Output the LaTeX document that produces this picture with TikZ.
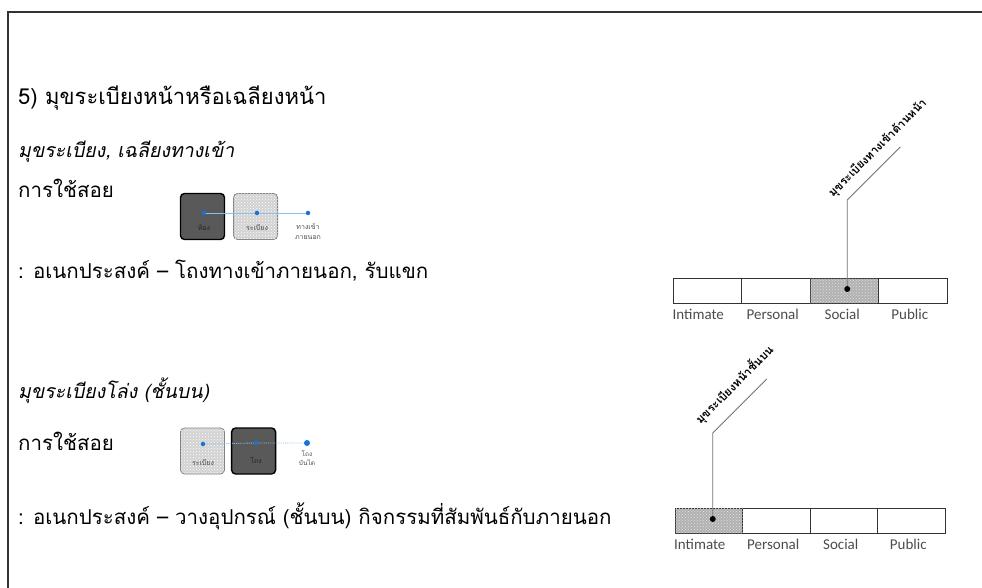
\documentclass[tikz,border=0pt]{standalone}
\usepackage{fontspec}
\setmainfont[Script=Thai]{Loma}
\newfontfamily\thaislant[Script=Thai,FakeSlant=0.2]{Loma}
\newfontfamily\latinfont{Carlito}
\usetikzlibrary{positioning,patterns}
\definecolor{dotblue}{RGB}{25,115,210}
\definecolor{linkblue}{RGB}{140,190,235}

\begin{document}
\begin{tikzpicture}[x=1pt,y=-1pt,node distance=0pt]
  \tikzstyle{heading}=[anchor=base west,inner sep=0pt,font=\fontsize{22}{25}\selectfont]
  \tikzstyle{bodytext}=[anchor=base west,inner sep=0pt,font=\fontsize{20.5}{23}\selectfont]
  \tikzstyle{subhead}=[anchor=base west,inner sep=0pt,font=\fontsize{19.5}{23}\thaislant]
  \tikzstyle{roomdark}=[draw=black,line width=1.4pt,rounded corners=4pt,fill=black!65,minimum width=44pt,minimum height=46pt]
  \tikzstyle{roomlight}=[draw=gray,line width=0.8pt,rounded corners=4pt,fill=gray!35,postaction={pattern=crosshatch dots,pattern color=white},minimum width=44pt,minimum height=46pt]
  \tikzstyle{bluedot}=[circle,fill=dotblue,inner sep=0pt,minimum size=4.5pt]
  \tikzstyle{tinytext}=[inner sep=0pt,align=center,text=black!70,font=\fontsize{7}{10}\selectfont]
  \tikzstyle{zone}=[draw=black!80,line width=1pt,inner sep=0pt,outer sep=0pt,minimum width=68.5pt,minimum height=24.5pt]
  \tikzstyle{zoneshade}=[zone,fill=gray!60,postaction={pattern=crosshatch dots,pattern color=gray!25}]
  \tikzstyle{zonelabel}=[inner sep=0pt,text=black!70,font=\latinfont\fontsize{15}{17}\selectfont]
  \tikzstyle{leader}=[draw=black!55,line width=0.8pt]
  \tikzstyle{tag}=[rotate=45,anchor=south west,inner sep=0pt,font=\fontsize{11.5}{13}\selectfont\bfseries]

  \useasboundingbox (0,0) rectangle (982,588);
  \draw[line width=1.5pt,black!80] (8,588) -- (8,12) -- (982,12);

  % section 1
  \node[heading] (title) at (18,105) {5) มุขระเบียงหน้าหรือเฉลียงหน้า};
  \node[subhead] (sub1) at (18,158) {มุขระเบียง, เฉลียงทางเข้า};
  \node[bodytext] (use1) at (18,198) {การใช้สอย};
  \node[bodytext] (aim1) at (18,278) {: อเนกประสงค์ – โถงทางเข้าภายนอก, รับแขก};

  \node[roomdark] (room1) at (202.5,216.5) {};
  \node[roomlight,right=8pt of room1] (porch1) {};
  \node[bluedot] (d1) at (204,213) {};
  \node[bluedot] (d2) at (257,213) {};
  \node[bluedot] (d3) at (308,213) {};
  \draw[linkblue,line width=0.7pt] (d1) -- (d2) -- (d3);
  \node[tinytext,text=black!85,below=9pt of d1] {ห้อง};
  \node[tinytext,below=9pt of d2] {ระเบียง};
  \node[tinytext,below=8pt of d3,anchor=north] {ทางเข้า\\ภายนอก};

  \node[zone] (a1) at (707.25,291) {};
  \node[zone,right=of a1] (a2) {};
  \node[zoneshade,right=of a2] (a3) {};
  \node[zone,right=of a3] (a4) {};
  \node[zonelabel,below=6pt of a1,xshift=-9pt] {Intimate};
  \node[zonelabel,below=6pt of a2,xshift=-3pt] {Personal};
  \node[zonelabel,below=6pt of a3,xshift=-2pt] {Social};
  \node[zonelabel,below=6pt of a4,xshift=-3pt] {Public};
  \node[circle,fill=black,inner sep=0pt,minimum size=6pt] (p1) at ([xshift=3pt,yshift=2pt]a3.center) {};
  \coordinate (k1) at ([yshift=89pt]p1);
  \coordinate (e1) at ([shift={(53pt,53pt)}]k1);
  \draw[leader] (p1) -- (k1) -- (e1);
  \node[tag] (t1) at ([shift={(-12pt,0pt)}]k1) {มุขระเบียงทางเข้าด้านหน้า};

  % section 2
  \node[subhead] (sub2) at (18,398) {มุขระเบียงโล่ง (ชั้นบน)};
  \node[bodytext] (use2) at (18,450) {การใช้สอย};
  \node[bodytext] (aim2) at (18,524) {: อเนกประสงค์ – วางอุปกรณ์ (ชั้นบน) กิจกรรมที่สัมพันธ์กับภายนอก};

  \node[roomlight] (porch2) at (202.5,451) {};
  \node[roomdark,right=6pt of porch2] (hall2) {};
  \node[bluedot] (f1) at (203,444) {};
  \node[bluedot] (f2) at (256,443) {};
  \node[bluedot,minimum size=6pt] (f3) at (307,443) {};
  \draw[linkblue,line width=0.9pt,densely dotted] (f1) -- (f2) -- (f3);
  \node[tinytext,below=13pt of f1] {ระเบียง};
  \node[tinytext,text=black!85,below=12pt of f2] {โถง};
  \node[tinytext,below=4pt of f3,anchor=north,font=\fontsize{6.5}{9.5}\selectfont] {โถง\\บันได};

  \node[zone,minimum width=67.5pt,minimum height=25pt] (b1) at (708.75,520.5) {};
  \node[zone,minimum width=67.5pt,minimum height=25pt,right=of b1] (b2) {};
  \node[zone,minimum width=67.5pt,minimum height=25pt,right=of b2] (b3) {};
  \node[zone,minimum width=67.5pt,minimum height=25pt,right=of b3] (b4) {};
  \node[zoneshade,minimum width=67.5pt,minimum height=25pt] at (b1) {};
  \node[zonelabel,below=6pt of b1,xshift=-9pt] {Intimate};
  \node[zonelabel,below=6pt of b2,xshift=-3pt] {Personal};
  \node[zonelabel,below=6pt of b3,xshift=-3pt] {Social};
  \node[zonelabel,below=6pt of b4,xshift=-3pt] {Public};
  \node[circle,fill=black,inner sep=0pt,minimum size=6pt] (p2) at ([xshift=4pt,yshift=1.5pt]b1.center) {};
  \coordinate (k2) at ([yshift=86pt]p2);
  \coordinate (e2) at ([shift={(54pt,54pt)}]k2);
  \draw[leader] (p2) -- (k2) -- (e2);
  \node[tag] (t2) at ([shift={(-10pt,6pt)}]k2) {มุขระเบียงหน้าชั้นบน};
\end{tikzpicture}
\end{document}
